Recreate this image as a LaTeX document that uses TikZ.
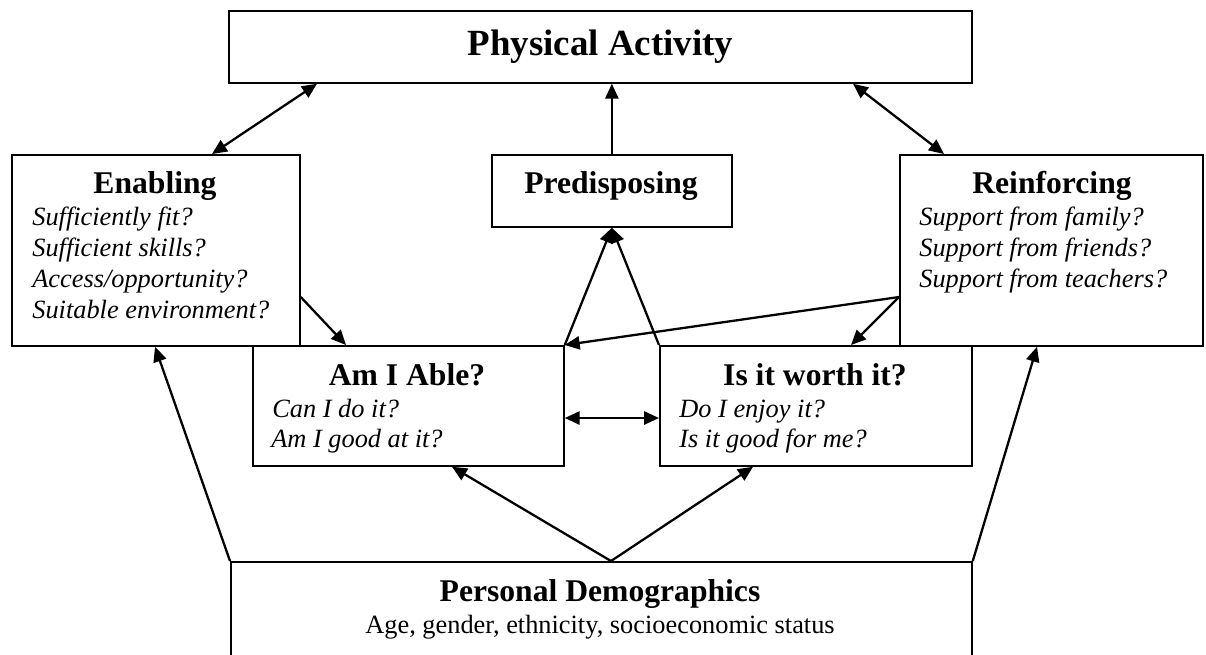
\documentclass[tikz,border=0pt]{standalone}
\usepackage{fontspec}
\setmainfont{Liberation Serif}
\usetikzlibrary{arrows.meta,calc}
\tikzset{
	box/.style={draw, line width=1pt, inner sep=0pt, anchor=north west},
	head/.style={font=\fontsize{18}{21}\selectfont\bfseries, anchor=base, inner sep=0pt},
	ask/.style={font=\fontsize{15}{18}\selectfont\itshape, anchor=base west, inner sep=0pt},
	link/.style={line width=1.3pt, -{Triangle[length=8.5pt,width=7.5pt]}},
	twoway/.style={line width=1.3pt, {Triangle[length=8.5pt,width=7.5pt]}-{Triangle[length=8.5pt,width=7.5pt]}}
}
\begin{document}
\begin{tikzpicture}[x=0.02cm,y=-0.02cm]
			\clip (0,0) rectangle (1206,654);
			% boxes
			\node[box, minimum width=743*0.02cm, minimum height=72*0.02cm] (pa) at (228,10) {};
			\node[box, minimum width=288*0.02cm, minimum height=191*0.02cm] (enab) at (11,154) {};
			\node[box, minimum width=240*0.02cm, minimum height=72*0.02cm] (pred) at (491,154) {};
			\node[box, minimum width=303*0.02cm, minimum height=191*0.02cm] (reinf) at (899,154) {};
			\node[box, minimum width=311*0.02cm, minimum height=120*0.02cm] (able) at (252,345) {};
			\node[box, minimum width=312*0.02cm, minimum height=120*0.02cm] (worth) at (659,345) {};
			\node[box, minimum width=741*0.02cm, minimum height=120*0.02cm] (demo) at (230,561) {};
			
			% texts
			\node[font=\fontsize{21}{25}\selectfont\bfseries] (patext) at (pa.center) {Physical Activity};
			\node[head] (enabhead) at (155,193) {Enabling};
			\node[head] (predhead) at (611,193) {Predisposing};
			\node[head] (reinfhead) at (1052,193) {Reinforcing};
			\node[head] (ablehead) at (407,385) {Am I Able?};
			\node[head] (worthhead) at (815,385) {Is it worth it?};
			\node[head] (demohead) at (600,601) {Personal Demographics};
			\node[font=\fontsize{15}{18}\selectfont, anchor=base, inner sep=0pt] (demotext) at (600,633) {Age, gender, ethnicity, socioeconomic status};
			
			\foreach \t [count=\i] in {Sufficiently fit?, Sufficient skills?, Access/opportunity?, Suitable environment?}
			\node[ask] (enab\i) at (32,194+31*\i) {\t};
			\foreach \t [count=\i] in {Support from family?, Support from friends?, Support from teachers?}
			\node[ask] (reinf\i) at (919,194+31*\i) {\t};
			\node[ask] (able1) at (272,417) {Can I do it?};
			\node[ask] (able2) at (271,447) {Am I good at it?};
			\node[ask] (worth1) at (679,417) {Do I enjoy it?};
			\node[ask] (worth2) at (679,447) {Is it good for me?};
			
			% connectors
			\coordinate (rl) at ($(reinf.north west)+(0,143)$);
			\coordinate (dtop) at ($(demo.north west)+(381,0)$);
			
			\draw[twoway] ($(pa.south west)+(89,0)$) -- ($(enab.north west)+(201,0)$);
			\draw[link] (pred.north) -- (pred.north |- pa.south);
			\draw[twoway] ($(pa.south west)+(625,0)$) -- ($(reinf.north west)+(45,0)$);
			\draw[link] ($(enab.north east)+(0,143)$) -- ($(able.north west)+(94,0)$);
			\draw[link] (able.north east) -- (pred.south);
			\draw[link] (worth.north west) -- (pred.south);
			\draw[link] (rl) -- (able.north east);
			\draw[link] (rl) -- ($(worth.north west)+(192,0)$);
			\draw[twoway] ($(able.north east)+(0,73)$) -- ($(worth.north west)+(0,73)$);
			\draw[link] (demo.north west) -- ($(enab.south west)+(144,0)$);
			\draw[link] (dtop) -- ($(able.south west)+(200,0)$);
			\draw[link] (dtop) -- ($(worth.south west)+(94,0)$);
			\draw[link] (demo.north east) -- ($(reinf.south west)+(138,0)$);
\end{tikzpicture}
\end{document}
